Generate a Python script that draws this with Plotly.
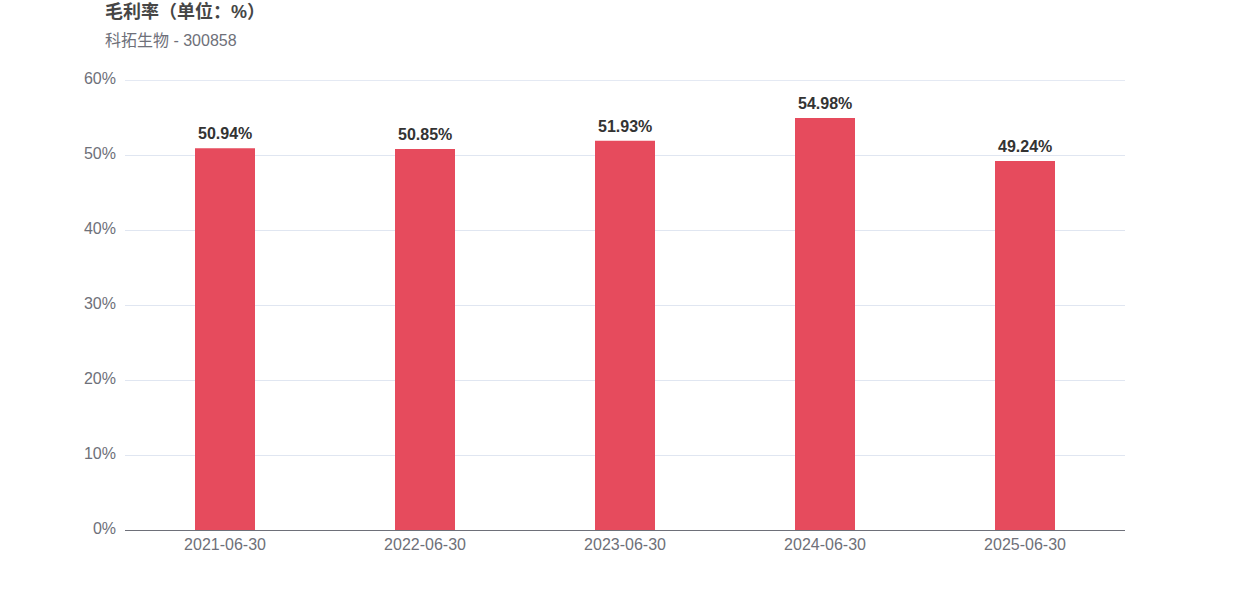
import plotly.graph_objects as go

categories = ["2021-06-30", "2022-06-30", "2023-06-30", "2024-06-30", "2025-06-30"]
values = [50.94, 50.85, 51.93, 54.98, 49.24]
labels = [f"{v:.2f}%" for v in values]
y_ticks = [0, 10, 20, 30, 40, 50, 60]
y_tick_text = [f"{t}%" for t in y_ticks]
title_text = "毛利率（单位：%）"
subtitle_text = "科拓生物 - 300858"

W, H = 1250, 600
l, r, t, b = 125, 125, 80, 70
pw, ph = W - l - r, H - t - b


def px_to_paper(xp, yp):
    return (xp - l) / pw, (H - b - yp) / ph


fig = go.Figure(go.Bar(
    x=categories, y=values,
    marker=dict(color="#E64B5D", line=dict(width=0)),
    hoverinfo="x+y",
))

annotations = [
    dict(x=c, y=v, xref="x", yref="y", text=f"<b>{lab}</b>", showarrow=False,
         yanchor="bottom", yshift=4,
         font=dict(family="Liberation Sans, Arial, sans-serif", size=16, color="#333333"))
    for c, v, lab in zip(categories, values, labels)
]
tx, ty = px_to_paper(103, 12)
sx, sy = px_to_paper(103, 40)
annotations += [
    dict(text=f"<b>{title_text}</b>", x=tx, y=ty, xref="paper", yref="paper",
         xanchor="left", yanchor="middle", showarrow=False,
         font=dict(family="Liberation Sans, Noto Sans CJK SC, sans-serif", size=18, color="#464646")),
    dict(text=subtitle_text, x=sx, y=sy, xref="paper", yref="paper",
         xanchor="left", yanchor="middle", showarrow=False,
         font=dict(family="Liberation Sans, Noto Sans CJK SC, sans-serif", size=16, color="#6E7079")),
]

fig.update_layout(
    width=W, height=H,
    margin=dict(l=l, r=r, t=t, b=b, pad=0),
    paper_bgcolor="white", plot_bgcolor="white",
    bargap=0.7,
    showlegend=False,
    font=dict(family="Liberation Sans, Arial, sans-serif", size=16, color="#6E7079"),
    xaxis=dict(
        type="category",
        showline=True, linecolor="#6E7079", linewidth=1,
        showgrid=False, ticks="", ticklabelstandoff=0,
        tickfont=dict(size=16, color="#6E7079"),
    ),
    yaxis=dict(
        range=[0, 60.05], tickvals=y_ticks, ticktext=y_tick_text,
        showgrid=True, gridcolor="#E0E6F1", gridwidth=1,
        zeroline=False, showline=False, ticks="",
        ticklabelstandoff=8, ticklabelshift=-2,
        tickfont=dict(size=16, color="#6E7079"),
    ),
    annotations=annotations,
    shapes=[dict(type="line", xref="paper", yref="y", x0=0, x1=1,
                 y0=y_ticks[-1], y1=y_ticks[-1], layer="below",
                 line=dict(color="#E0E6F1", width=1))],
)

fig.write_html(
    "out.html",
    config={"displayModeBar": False},
    post_script="document.body.style.margin='0';document.body.style.overflow='hidden';",
)
